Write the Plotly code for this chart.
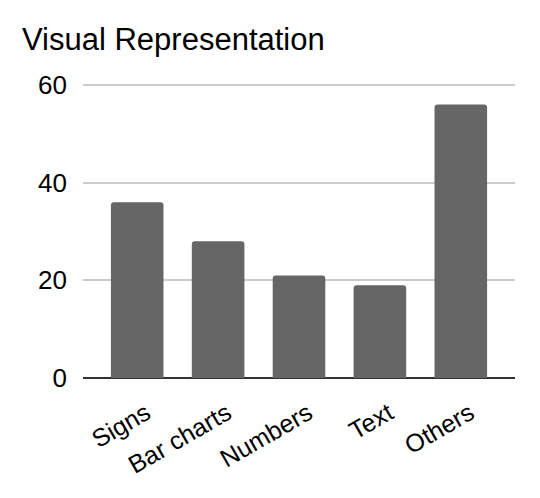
import plotly.graph_objects as go

categories = ["Signs", "Bar charts", "Numbers", "Text", "Others"]
values = [36, 28, 21, 19, 56]
y_ticks = [0, 20, 40, 60]

FONT = "Arial, Liberation Sans, sans-serif"

fig = go.Figure(
    go.Bar(
        x=categories,
        y=values,
        marker=dict(color="#666666", cornerradius=3, line=dict(width=0)),
        width=0.65,
    )
)

fig.update_layout(
    width=540,
    height=498,
    paper_bgcolor="white",
    plot_bgcolor="white",
    margin=dict(l=75, r=33, t=74, b=128, autoexpand=False),
    showlegend=False,
    font=dict(family=FONT, color="#000000"),
    title=dict(
        text="Visual Representation",
        font=dict(family=FONT, size=31, color="#000000"),
        x=14 / 540,
        xanchor="left",
        xref="container",
        y=1 - 20 / 498,
        yanchor="top",
        yref="container",
    ),
)

fig.update_xaxes(
    range=[-0.67, 4.67],
    tickangle=-30,
    tickfont=dict(family=FONT, size=25, color="#000000"),
    showgrid=False,
    showline=False,
    ticks="",
    ticklabelstandoff=15,
    ticklabelshift=9,
    automargin=False,
)

fig.update_yaxes(
    range=[0, 60.6],
    tickvals=y_ticks,
    tickfont=dict(family=FONT, size=26, color="#000000"),
    showgrid=True,
    gridcolor="#cccccc",
    gridwidth=2,
    zeroline=True,
    zerolinecolor="#333333",
    zerolinewidth=2,
    showline=False,
    ticks="",
    ticklabelstandoff=15,
    automargin=False,
)

fig.write_html("out.html")
